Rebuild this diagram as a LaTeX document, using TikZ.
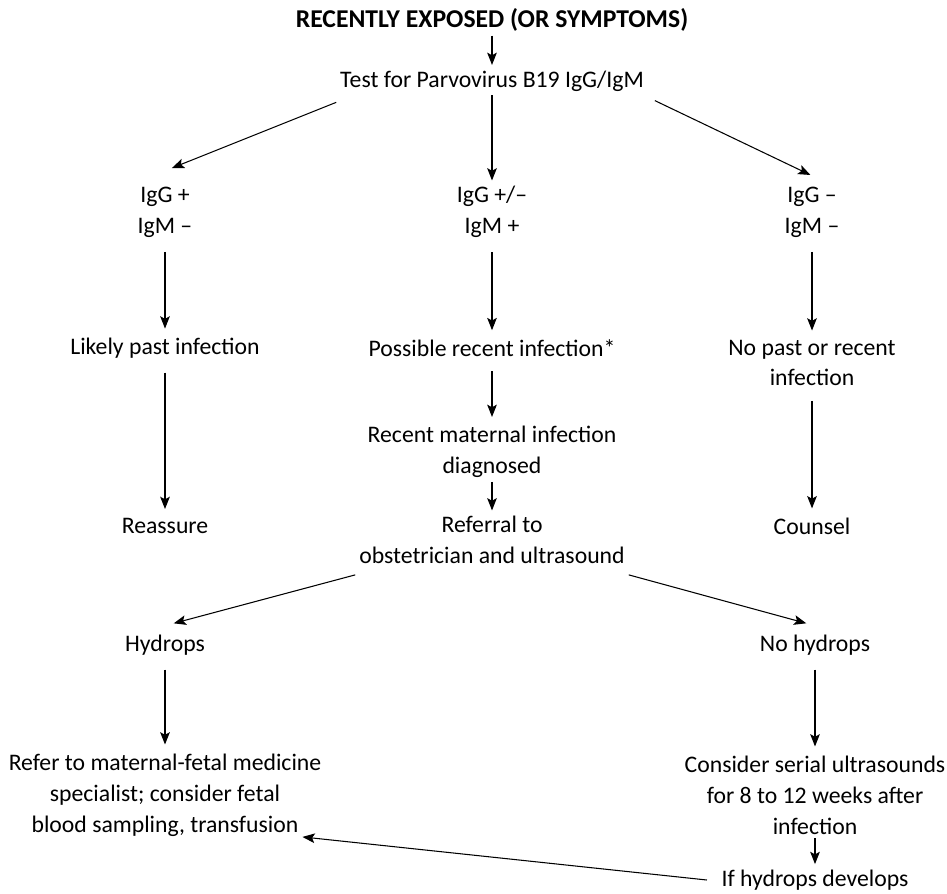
\documentclass[tikz,border=0pt]{standalone}
\usetikzlibrary{arrows.meta, positioning}
\usepackage{fontspec}
\setmainfont{Carlito}

\begin{document}
\begin{tikzpicture}[shorten >=1pt, -{Stealth[length=7pt,width=5.5pt,inset=1.5pt]}, line width=0.6pt, draw=black]
    \tikzstyle{stage}=[align=center, inner sep=2pt, font=\fontsize{13.5}{17.6}\selectfont]
    \tikzstyle{heading}=[stage, font=\fontsize{14.6}{17.6}\selectfont\bfseries]
    \tikzstyle{down}=[shorten <=6pt, shorten >=3pt]

    \useasboundingbox (0,0) rectangle (18.94,-17.86);

    \node[heading] (exposed) at (9.84,-0.40) {RECENTLY EXPOSED (OR SYMPTOMS)};
    \node[stage] (test) at (9.84,-1.62) {Test for Parvovirus B19 IgG/IgM};

    \node[stage] (pastIg) at (3.30,-4.24) {IgG +\\IgM --};
    \node[stage] (recentIg) at (9.84,-4.24) {IgG +/--\\IgM +};
    \node[stage] (noIg) at (16.24,-4.24) {IgG --\\IgM --};

    \node[stage] (past) at (3.30,-6.96) {Likely past infection};
    \node[stage] (possible) at (9.84,-6.96) {Possible recent infection*};
    \node[stage] (none) at (16.24,-7.26) {No past or recent\\infection};

    \node[stage] (maternal) at (9.84,-9.04) {Recent maternal infection\\diagnosed};
    \node[stage] (reassure) at (3.30,-10.52) {Reassure};
    \node[stage] (referral) at (9.84,-10.80) {Referral to\\obstetrician and ultrasound};
    \node[stage] (counsel) at (16.24,-10.52) {Counsel};

    \node[stage] (hydrops) at (3.30,-12.90) {Hydrops};
    \node[stage] (nohydrops) at (16.30,-12.90) {No hydrops};

    \node[stage] (specialist) at (3.30,-15.90) {Refer to maternal-fetal medicine\\specialist; consider fetal\\blood sampling, transfusion};
    \node[stage] (serial) at (16.30,-15.90) {Consider serial ultrasounds\\for 8 to 12 weeks after\\infection};
    \node[stage] (develops) at (16.30,-17.60) {If hydrops develops};

    \draw (exposed) -- (test);
    \draw ([yshift=-4pt]test.south west) -- ([xshift=3pt,yshift=8pt]pastIg.north);
    \draw (test) -- (recentIg);
    \draw ([xshift=4pt,yshift=-3pt]test.south east) -- ([yshift=4pt]noIg.north);

    \draw[down] (pastIg) -- (past);
    \draw[down] (recentIg) -- (possible);
    \draw[down] (noIg) -- (none);

    \draw[down] (past) -- (reassure);
    \draw[down] (possible) -- (maternal);
    \draw[down] (none) -- (counsel);
    \draw (maternal) -- (referral);

    \draw ([yshift=-4pt]referral.south west) -- ([xshift=4pt,yshift=4pt]hydrops.north);
    \draw ([yshift=-4pt]referral.south east) -- ([xshift=-4pt,yshift=4pt]nohydrops.north);

    \draw[down] (hydrops) -- (specialist);
    \draw[down] (nohydrops) -- (serial);
    \draw (serial) -- (develops);
    \draw ([xshift=-6pt]develops.west) -- ([xshift=-14pt,yshift=2pt]specialist.south east);
\end{tikzpicture}
\end{document}
